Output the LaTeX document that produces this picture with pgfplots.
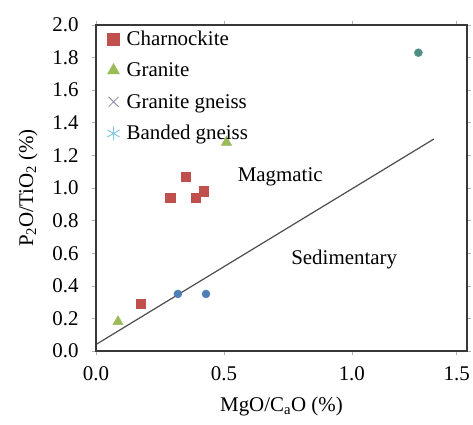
\documentclass[border=0pt]{standalone}
\usepackage{fontspec}
\setmainfont{Liberation Serif}
\usepackage{pgfplots}
\pgfplotsset{compat=1.18}
\definecolor{cred}{HTML}{C0504D}
\definecolor{cgreen}{HTML}{9BBB59}
\definecolor{cpurple}{HTML}{8C84AC}
\definecolor{clight}{HTML}{7CC4E0}
\definecolor{cblue}{HTML}{4F7FB8}
\definecolor{cteal}{HTML}{4E8E84}
\begin{document}
\begin{tikzpicture}
\begin{axis}[
  scale only axis,
  width=371bp, height=326bp,
  xmin=0, xmax=1.45, ymin=0, ymax=2,
  xtick={0,0.5,1.0,1.41}, xticklabels={0.0,0.5,1.0,1.5},
  ytick={0,0.2,0.4,0.6,0.8,1.0,1.2,1.4,1.6,1.8,2.0},
  yticklabels={0.0,0.2,0.4,0.6,0.8,1.0,1.2,1.4,1.6,1.8,2.0},
  tick label style={font=\fontsize{21}{24}\selectfont},
  label style={font=\fontsize{21}{24}\selectfont},
  xlabel={MgO/C\textsubscript{a}O (\%)},
  ylabel={P\textsubscript{2}O/TiO\textsubscript{2} (\%)},
  xlabel style={yshift=-9bp},
  ylabel style={yshift=8bp},
  yticklabel style={xshift=-10bp},
  xticklabel style={yshift=-8bp},
  axis line style={line width=2.4pt, draw=black!78},
  tick style={draw=black!30, line width=0.6pt},
  tick align=outside, major tick length=4bp,
  legend style={at={(0.025,0.995)}, anchor=north west, draw=none, fill=none,
    font=\fontsize{21}{24}\selectfont, row sep=12bp, inner sep=2bp,
    nodes={inner xsep=7bp}},
  legend cell align=left,
]
\addplot[only marks, mark=square*, mark size=4.6bp, color=cred, line width=0.4pt,
  legend image post style={mark size=6bp}] coordinates {
  (0.176,0.29) (0.29,0.94) (0.35,1.07) (0.39,0.94) (0.42,0.98)
};
\addlegendentry{Charnockite}
\addplot[only marks, mark=triangle*, mark size=6bp, color=cgreen, line width=0.4pt,
  legend image post style={mark size=7bp}] coordinates {
  (0.086,0.18) (0.51,1.28)
};
\addlegendentry{Granite}
\addlegendimage{only marks, mark=x, mark size=7bp, color=cpurple, line width=0.8pt}
\addlegendentry{Granite gneiss}
\addlegendimage{only marks, mark=asterisk, mark size=7bp, color=clight, line width=0.9pt}
\addlegendentry{Banded gneiss}
\addplot[forget plot, only marks, mark=*, mark size=4bp, color=cblue, line width=0.4pt] coordinates {
  (0.32,0.35) (0.43,0.35)
};
\addplot[forget plot, only marks, mark=*, mark size=4bp, color=cteal, line width=0.4pt] coordinates {
  (1.26,1.83)
};
\addplot[forget plot, no marks, draw=black!70, line width=1.2pt] coordinates {
  (0,0.04) (1.32,1.30)
};
\draw[line width=2.4pt, black!78] (rel axis cs:0,0) rectangle (rel axis cs:1,1);
\node[font=\fontsize{21}{24}\selectfont] at (axis cs:0.72,1.07) {Magmatic};
\node[font=\fontsize{21}{24}\selectfont] at (axis cs:0.97,0.56) {Sedimentary};
\end{axis}
\pgfresetboundingbox
\path ([xshift=-96bp,yshift=-74bp]current axis.south west) rectangle ([xshift=6bp,yshift=25bp]current axis.north east);
\end{tikzpicture}
\end{document}
